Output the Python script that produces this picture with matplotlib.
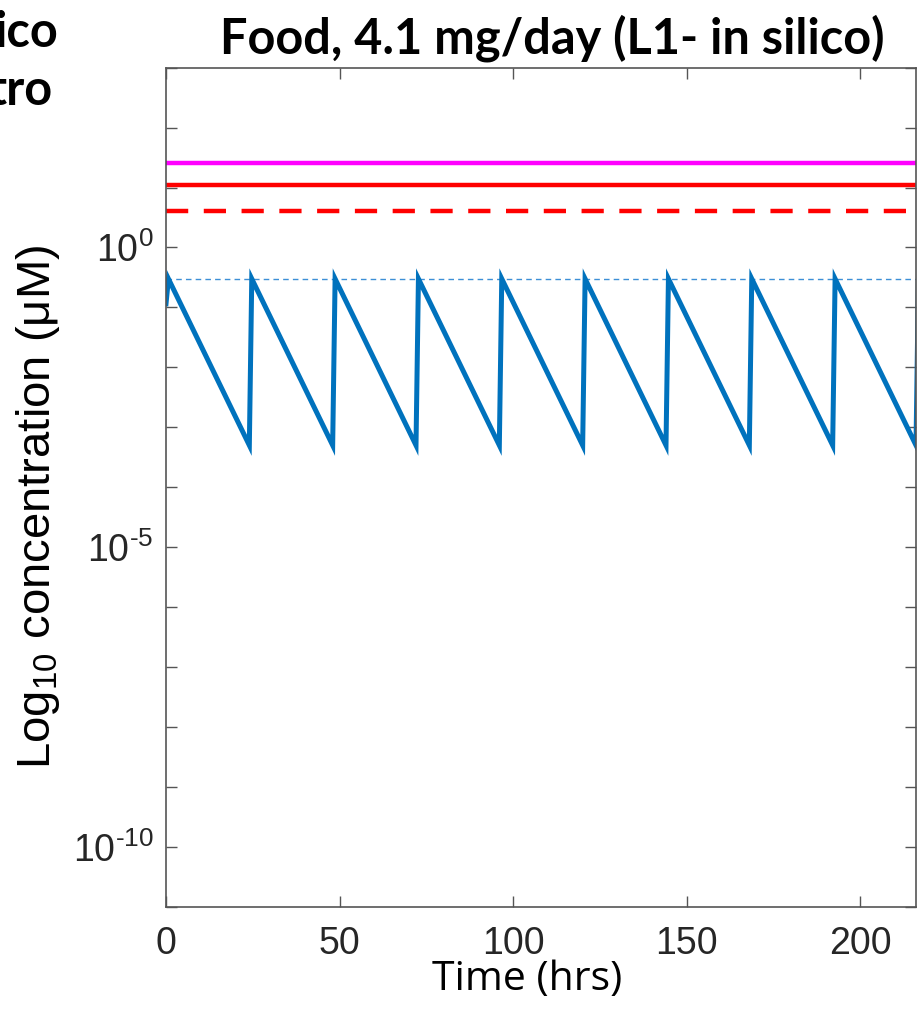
import matplotlib
matplotlib.use("Agg")
import matplotlib.pyplot as plt
from matplotlib.ticker import FixedLocator, FixedFormatter

plt.rcParams['mathtext.fontset'] = 'custom'
plt.rcParams['mathtext.rm'] = 'Liberation Sans'
plt.rcParams['mathtext.it'] = 'Liberation Sans'
plt.rcParams['font.family'] = ['Liberation Sans', 'DejaVu Sans']

# ---- data ----
blue_t = [0, 0.7, 24, 24.7, 48, 48.7, 72, 72.7, 96, 96.7, 120, 120.7,
          144, 144.7, 168, 168.7, 192, 192.7, 216, 216.7]
blue_c = [0.115, 0.30, 5e-4, 0.30, 5e-4, 0.30, 5e-4, 0.30, 5e-4, 0.30, 5e-4, 0.30,
          5e-4, 0.30, 5e-4, 0.30, 5e-4, 0.30, 5e-4, 0.30]
cmax_level = 0.30        # blue dotted
magenta_level = 25.6
red_solid_level = 11.0
red_dashed_level = 4.0

x_ticks = [0, 50, 100, 150, 200]
y_decades = [10.0 ** k for k in range(-11, 4)]
y_labeled = {0: r'$10^{\text{0}}$', -5: r'$10^{\text{-5}}$', -10: r'$10^{\text{-10}}$'}

W, H = 919, 1009
fig = plt.figure(figsize=(W / 100, H / 100), dpi=100)
L, R, T, B = 166, 916, 67.7, 906.7
ax = fig.add_axes([L / W, 1 - B / H, (R - L) / W, (B - T) / H])

xlim = (0, 216)
ax.axhline(magenta_level, color='#FF00FF', lw=3.2)
ax.axhline(red_solid_level, color='#FF0000', lw=3.2)
ax.axhline(red_dashed_level, color='#FF0000', lw=3.2, ls=(0, (5, 3.5)))
ax.axhline(cmax_level, color='#3D8FD6', lw=1.0, ls=(0, (4, 3)))
ax.plot(blue_t, blue_c, color='#0072BD', lw=3.6, solid_joinstyle='miter', clip_on=True)

ax.set_yscale('log')
ax.set_xlim(*xlim)
ax.set_ylim(1e-11, 1e3)

ax.xaxis.set_major_locator(FixedLocator(x_ticks))
ax.set_xticklabels([str(v) for v in x_ticks])
ax.yaxis.set_major_locator(FixedLocator(y_decades))
labels = []
for k in range(-11, 4):
    labels.append(y_labeled.get(k, ''))
ax.yaxis.set_major_formatter(FixedFormatter(labels))
ax.yaxis.set_minor_locator(FixedLocator([]))

ax.tick_params(axis='both', which='major', direction='in', length=8, width=1.0,
               color='#555555', labelcolor='#262626', labelsize=27,
               top=True, right=True)
ax.tick_params(axis='x', pad=14)
ax.tick_params(axis='y', pad=9)
for s in ax.spines.values():
    s.set_color('#555555')
    s.set_linewidth(1.2)

# texts
fig.text(552 / W, 1 - 54 / H, 'Food, 4.1 mg/day (L1- in silico)', family=['Lato', 'DejaVu Sans'],
         weight='bold', fontsize=35, ha='center', va='baseline', color='black')
fig.text(527 / W, 1 - 990 / H, 'Time (hrs)', family=['Open Sans', 'DejaVu Sans'],
         fontsize=29.5, ha='center', va='baseline', color='black')
fig.text(38 / W, 1 - 507 / H, 'Log$_{10}$ concentration (μM)', fontsize=34,
         rotation=90, ha='center', va='center', color='black')
fig.text(58 / W, 1 - 47 / H, 'ico', family=['Lato', 'DejaVu Sans'], weight='bold',
         fontsize=35, ha='right', va='baseline')
fig.text(52 / W, 1 - 105 / H, 'tro', family=['Lato', 'DejaVu Sans'], weight='bold',
         fontsize=35, ha='right', va='baseline')

fig.savefig('out.png', dpi=100)
